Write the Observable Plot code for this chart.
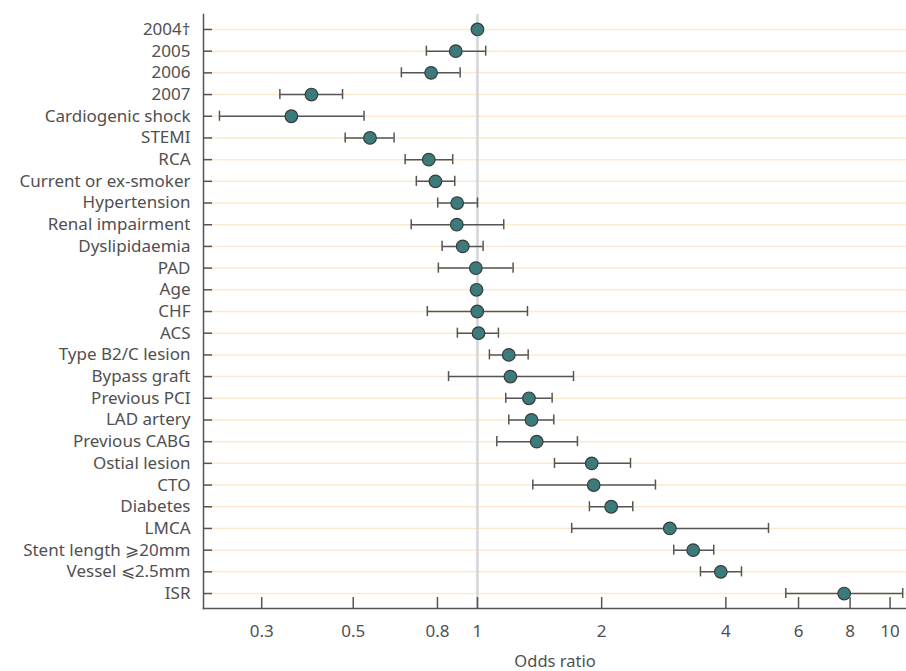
<!DOCTYPE html>
<html><head><meta charset="utf-8">
<script src="https://cdn.jsdelivr.net/npm/d3@7"></script>
<script src="https://cdn.jsdelivr.net/npm/@observablehq/plot@0.6"></script>
<style>body{margin:0;background:#fff;}</style>
</head><body><div id="chart"></div>
<script>
const factors = ["2004†","2005","2006","2007","Cardiogenic shock","STEMI","RCA","Current or ex-smoker","Hypertension","Renal impairment","Dyslipidaemia","PAD","Age","CHF","ACS","Type B2/C lesion","Bypass graft","Previous PCI","LAD artery","Previous CABG","Ostial lesion","CTO","Diabetes","LMCA","Stent length ⩾20mm","Vessel ⩽2.5mm","ISR"];
const oddsRatio = [1.0,0.886,0.772,0.396,0.354,0.549,0.762,0.791,0.893,0.891,0.921,0.991,0.995,0.999,1.006,1.191,1.202,1.333,1.352,1.392,1.892,1.913,2.109,2.925,3.333,3.888,7.741];
const ciLow  = [null,0.752,0.654,0.332,0.237,0.478,0.668,0.711,0.801,0.691,0.821,0.804,null,0.756,0.894,1.069,0.851,1.171,1.191,1.114,1.537,1.362,1.868,1.692,2.990,3.471,5.588];
const ciHigh = [null,1.047,0.908,0.471,0.531,0.628,0.871,0.881,1.0,1.158,1.032,1.220,null,1.322,1.124,1.327,1.709,1.517,1.531,1.747,2.349,2.700,2.379,5.074,3.738,4.364,10.73];
const xTicks = [0.3,0.5,0.8,1,2,4,6,8,10];
const xDomain = [0.2168,10.96];

const rows = factors.map((f,i)=>({factor:f, or:oddsRatio[i], lo:ciLow[i], hi:ciHigh[i]}));
const withCI = rows.filter(d=>d.lo!=null);
const axisColor = "#555";

const chart = Plot.plot({
  width: 906, height: 671,
  marginLeft: 203, marginRight: 0, marginTop: 14, marginBottom: 63,
  style: {fontFamily: "'Noto Sans', sans-serif", fontSize: "16.5px", color: "#505050", background: "#fff"},
  x: {type: "log", domain: xDomain},
  y: {type: "band", domain: factors, paddingInner: 0, paddingOuter: 0.19, round: false},
  marks: [
    Plot.gridY({stroke: "#fde9cf", strokeOpacity: 1, strokeWidth: 1.5}),
    Plot.ruleX([1], {stroke: "#d5d5d9", strokeWidth: 2.5}),
    Plot.ruleY(withCI, {y: "factor", x1: "lo", x2: "hi", stroke: axisColor, strokeWidth: 1.5}),
    Plot.tickX(withCI, {x: "lo", y: "factor", insetTop: 5.8, insetBottom: 5.8, stroke: axisColor, strokeWidth: 1.5}),
    Plot.tickX(withCI, {x: "hi", y: "factor", insetTop: 5.8, insetBottom: 5.8, stroke: axisColor, strokeWidth: 1.5}),
    Plot.dot(rows, {x: "or", y: "factor", r: 6.3, fill: "#3b7b7c", stroke: "#3a3a3a", strokeWidth: 1.2}),
    Plot.axisY({tickSize: 0, tickPadding: 13, label: null, fontSize: 17}),
    Plot.axisY({tickSize: 9, dx: 9, tickFormat: () => "", label: null, stroke: axisColor, strokeWidth: 1.5}),
    Plot.axisX({ticks: xTicks, tickSize: 11, dy: -11, tickFormat: () => "", label: "Odds ratio", labelAnchor: "center", labelArrow: "none", labelOffset: 58, stroke: axisColor, strokeWidth: 1.5}),
    Plot.text(xTicks, {x: d => d, text: d => String(d), frameAnchor: "bottom", lineAnchor: "top", dy: 16, fontSize: 17}),
    Plot.frame({anchor: "left", stroke: axisColor, strokeWidth: 1.5}),
    Plot.frame({anchor: "bottom", stroke: axisColor, strokeWidth: 1.5})
  ]
});
document.getElementById("chart").appendChild(chart);
</script>
</body></html>
